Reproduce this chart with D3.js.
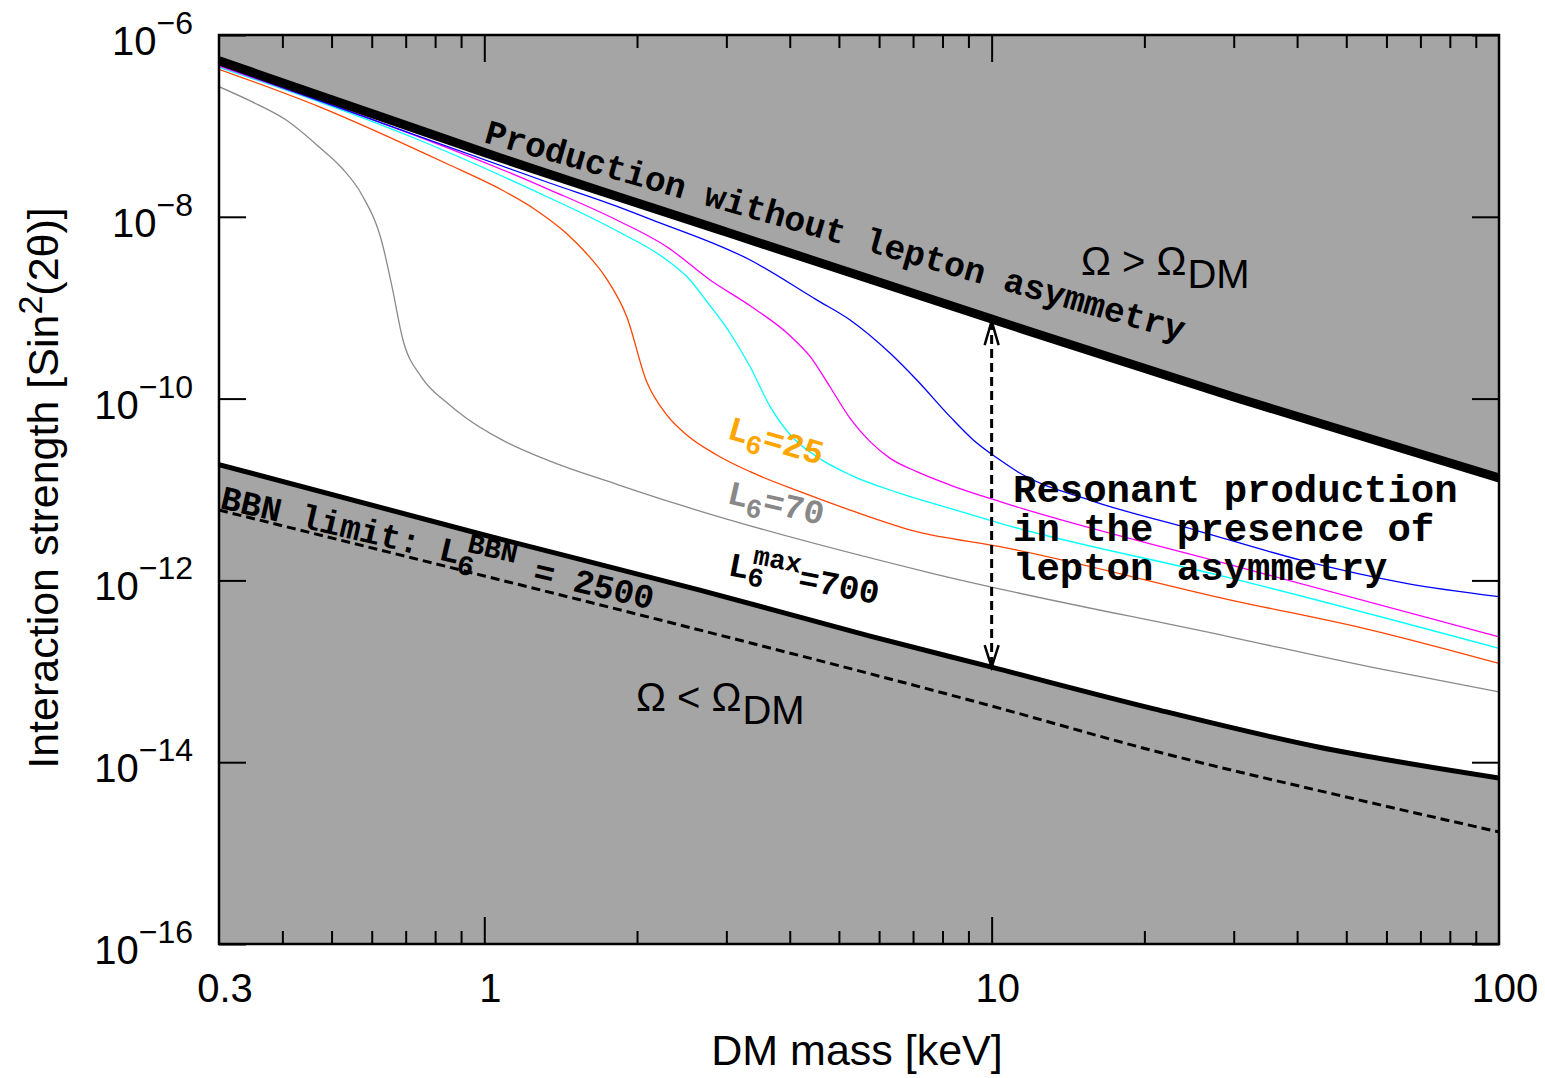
<!DOCTYPE html>
<html>
<head>
<meta charset="utf-8">
<script src="https://cdn.jsdelivr.net/npm/d3@7"></script>
<style>
  body { margin: 0; background: #fff; }
  text { white-space: pre; }
</style>
</head>
<body>
<svg id="chart" width="1545" height="1078"></svg>
<script>
// ---- data: DM mass [keV] and mixing sin^2(2θ) ----
// production without lepton asymmetry (upper bound, Ω > Ω_DM above)
const noAsymMass = [0.3, 0.5, 1, 3, 10, 30, 100];
const noAsymMix  = [5.2e-7, 1.94e-7, 5.1e-8, 6.8e-9, 7.5e-10, 1.04e-10, 1.34e-11];

// resonant production with maximal asymmetry L6 = 700 (lower bound, Ω < Ω_DM below)
const maxAsymMass = [0.3, 1, 2.66, 5.76, 10, 20.6, 44, 100];
const maxAsymMix  = [1.88e-11, 3.16e-12, 7.83e-13, 2.44e-13, 1.11e-13, 3.94e-14, 1.47e-14, 6.7e-15];

// BBN limit, L6 = 2500 (dashed)
const bbnMass = [0.3, 1, 2.43, 10, 20.6, 50, 100];
const bbnMix  = [5.94e-12, 1.12e-12, 3.23e-13, 4.15e-14, 1.36e-14, 4.14e-15, 1.71e-15];

// intermediate asymmetries
const grayMass = [0.3, 0.348, 0.407, 0.472, 0.524, 0.574, 0.629, 0.658, 0.689, 0.754, 0.841, 0.921, 1.084, 1.36, 1.843, 2.431, 7.56, 29.6, 56, 100];
const grayMix  = [2.70e-7, 1.85e-7, 1.16e-7, 5.90e-8, 3.44e-8, 1.74e-8, 5.15e-9, 1.69e-9, 4.76e-10, 1.69e-10, 9.18e-11, 6.12e-11, 3.51e-11, 2.01e-11, 1.12e-11, 6.76e-12, 1.21e-12, 2.38e-13, 1.11e-13, 5.92e-14];

const orangeMass = [0.3, 0.472, 0.84, 1.084, 1.263, 1.449, 1.587, 1.738, 1.909, 2.09, 2.289, 2.507, 2.872, 3.342, 4.19, 5.26, 7.12, 10.39, 29.6, 56, 100];
const orangeMix  = [4.20e-7, 1.63e-7, 3.88e-8, 1.97e-8, 1.19e-8, 6.64e-9, 4.00e-9, 2.12e-9, 7.96e-10, 1.53e-10, 6.61e-11, 3.98e-11, 2.40e-11, 1.57e-11, 9.46e-12, 5.94e-12, 3.43e-12, 2.35e-12, 6.08e-13, 2.84e-13, 1.22e-13];

const cyanMass = [0.3, 0.744, 1.349, 1.566, 1.843, 2.289, 2.544, 2.745, 3.05, 3.342, 3.66, 4.01, 4.52, 5.26, 6.6, 8.28, 10.39, 29.6, 100];
const cyanMix  = [4.42e-7, 7.0e-8, 1.60e-8, 1.08e-8, 6.8e-9, 3.35e-9, 2.02e-9, 1.17e-9, 5.27e-10, 2.24e-10, 8.15e-11, 3.98e-11, 2.30e-11, 1.45e-11, 9.08e-12, 6.21e-12, 4.25e-12, 1.06e-12, 1.79e-13];

const magentaMass = [0.3, 1.349, 1.823, 2.289, 2.786, 3.342, 4.01, 4.39, 4.80, 5.26, 5.76, 6.31, 7.12, 8.28, 10.39, 29.6, 100];
const magentaMix  = [4.56e-7, 1.97e-8, 9.23e-9, 4.69e-9, 2.02e-9, 1.05e-9, 4.89e-10, 2.89e-10, 1.35e-10, 6.07e-11, 3.36e-11, 2.20e-11, 1.57e-11, 1.12e-11, 7.35e-12, 1.48e-12, 2.40e-13];

const blueMass = [0.3, 1.349, 1.843, 2.122, 3.342, 4.52, 5.26, 6.31, 7.12, 8.28, 9.20, 10.39, 11.38, 15.6, 25.2, 40.7, 65.6, 100];
const blueMix  = [4.71e-7, 2.34e-8, 1.28e-8, 9.45e-9, 3.35e-9, 1.22e-9, 7.33e-10, 3.15e-10, 1.60e-10, 6.33e-11, 3.51e-11, 2.11e-11, 1.51e-11, 7.66e-12, 3.58e-12, 1.67e-12, 9.29e-13, 6.62e-13];

// ---- axes ----
const xMajor = [1, 10];
const xMinor = [0.4, 0.5, 0.6, 0.7, 0.8, 0.9, 2, 3, 4, 5, 6, 7, 8, 9, 20, 30, 40, 50, 60, 70, 80, 90];
const xTickValues = [0.3, 1, 10, 100];
const xTickLabels = ["0.3", "1", "10", "100"];
const yTickValues = [1e-6, 1e-8, 1e-10, 1e-12, 1e-14, 1e-16];
const yTickExponents = ["\u22126", "\u22128", "\u221210", "\u221212", "\u221214", "\u221216"];

const plot = { left: 219, right: 1499, top: 35, bottom: 944 };
const sans = "'Liberation Sans', Arial, Helvetica, sans-serif";
const mono = "'Liberation Mono', 'Courier New', Courier, monospace";
const shade = "#a5a5a5";

const svg = d3.select("#chart");
const x = d3.scaleLog().domain([0.3, 100]).range([plot.left, plot.right]);
const y = d3.scaleLog().domain([1e-16, 1e-6]).range([plot.bottom, plot.top]);

const pairs = (ms, vs) => ms.map((m, i) => [m, vs[i]]);
const line = d3.line().x(d => x(d[0])).y(d => y(d[1])).curve(d3.curveMonotoneX);

svg.append("defs").append("clipPath").attr("id", "plotClip")
  .append("rect")
  .attr("x", plot.left).attr("y", plot.top)
  .attr("width", plot.right - plot.left).attr("height", plot.bottom - plot.top);

const body = svg.append("g").attr("clip-path", "url(#plotClip)");

const upper = pairs(noAsymMass, noAsymMix);
const lower = pairs(maxAsymMass, maxAsymMix);

// excluded regions
body.append("path")
  .attr("d", d3.area().x(d => x(d[0])).y0(plot.top).y1(d => y(d[1])).curve(d3.curveMonotoneX)(upper))
  .attr("fill", shade);
body.append("path")
  .attr("d", d3.area().x(d => x(d[0])).y0(plot.bottom).y1(d => y(d[1])).curve(d3.curveMonotoneX)(lower))
  .attr("fill", shade);

// curves for different lepton asymmetries
const curves = [
  { m: grayMass, v: grayMix, c: "#8a8a8a" },
  { m: orangeMass, v: orangeMix, c: "#ff4500" },
  { m: cyanMass, v: cyanMix, c: "#00ffff" },
  { m: magentaMass, v: magentaMix, c: "#ff00ff" },
  { m: blueMass, v: blueMix, c: "#0000ff" }
];
curves.forEach(cv => {
  body.append("path").attr("d", line(pairs(cv.m, cv.v)))
    .attr("fill", "none").attr("stroke", cv.c).attr("stroke-width", 1.3);
});

// BBN limit
body.append("path").attr("d", line(pairs(bbnMass, bbnMix)))
  .attr("fill", "none").attr("stroke", "#000").attr("stroke-width", 3)
  .attr("stroke-dasharray", "9,5");

// boundaries
body.append("path").attr("d", line(upper))
  .attr("fill", "none").attr("stroke", "#000").attr("stroke-width", 9);
body.append("path").attr("d", line(lower))
  .attr("fill", "none").attr("stroke", "#000").attr("stroke-width", 5);

// double-headed arrow at 10 keV
const arrowX = x(10);
const yA = y(noAsymMix[noAsymMass.indexOf(10)]) + 2;
const yB = y(maxAsymMix[maxAsymMass.indexOf(10)]);
const arrow = svg.append("g").attr("stroke", "#000").attr("fill", "none");
arrow.append("line").attr("x1", arrowX).attr("x2", arrowX).attr("y1", yA).attr("y2", yB)
  .attr("stroke-width", 3).attr("stroke-dasharray", "9,5");
arrow.append("path").attr("stroke-width", 2.5)
  .attr("d", `M${arrowX - 7},${yA + 24}L${arrowX},${yA}L${arrowX + 7},${yA + 24}`);
arrow.append("path").attr("stroke-width", 2.5)
  .attr("d", `M${arrowX - 7},${yB - 22}L${arrowX},${yB}L${arrowX + 7},${yB - 22}`);

// ticks (inward, mirrored on all sides)
function tickAxis(axis, transform) {
  const g = svg.append("g").attr("transform", transform).call(axis);
  g.select(".domain").remove();
  g.selectAll(".tick line").attr("stroke", "#000").attr("stroke-width", 2);
  g.selectAll(".tick text").remove();
}
tickAxis(d3.axisBottom(x).tickValues(xMajor).tickSize(-27).tickFormat(""), `translate(0,${plot.bottom})`);
tickAxis(d3.axisBottom(x).tickValues(xMinor).tickSize(-13).tickFormat(""), `translate(0,${plot.bottom})`);
tickAxis(d3.axisTop(x).tickValues(xMajor).tickSize(-27).tickFormat(""), `translate(0,${plot.top})`);
tickAxis(d3.axisTop(x).tickValues(xMinor).tickSize(-13).tickFormat(""), `translate(0,${plot.top})`);
tickAxis(d3.axisLeft(y).tickValues(yTickValues).tickSize(-27).tickFormat(""), `translate(${plot.left},0)`);
tickAxis(d3.axisRight(y).tickValues(yTickValues).tickSize(-27).tickFormat(""), `translate(${plot.right},0)`);

// frame
svg.append("rect")
  .attr("x", plot.left).attr("y", plot.top)
  .attr("width", plot.right - plot.left).attr("height", plot.bottom - plot.top)
  .attr("fill", "none").attr("stroke", "#000").attr("stroke-width", 2.5);

// tick labels
xTickValues.forEach((v, i) => {
  svg.append("text")
    .attr("x", x(v) + 6).attr("y", 1002)
    .attr("text-anchor", "middle")
    .attr("font-family", sans).attr("font-size", 40).attr("fill", "#000")
    .text(xTickLabels[i]);
});
yTickValues.forEach((v, i) => {
  const t = svg.append("text")
    .attr("x", 193).attr("y", y(v) + 20)
    .attr("text-anchor", "end")
    .attr("font-family", sans).attr("font-size", 40).attr("fill", "#000");
  t.append("tspan").text("10");
  t.append("tspan").attr("font-size", 32).attr("dy", -21).text(yTickExponents[i]);
});

// axis titles
svg.append("text")
  .attr("x", 857).attr("y", 1065).attr("text-anchor", "middle")
  .attr("font-family", sans).attr("font-size", 43).attr("fill", "#000")
  .text("DM mass [keV]");
const yTitle = svg.append("text")
  .attr("transform", "translate(58,488) rotate(-90)")
  .attr("text-anchor", "middle")
  .attr("font-family", sans).attr("font-size", 43).attr("fill", "#000");
yTitle.append("tspan").text("Interaction strength [Sin");
yTitle.append("tspan").attr("font-size", 34).attr("dy", -16).text("2");
yTitle.append("tspan").attr("dy", 16).text("(2\u03b8)]");

// region labels
function omegaLabel(x0, y0, rel) {
  const t = svg.append("text").attr("x", x0).attr("y", y0)
    .attr("font-family", sans).attr("font-size", 40).attr("fill", "#000");
  t.append("tspan").text(`\u03a9 ${rel} \u03a9`);
  t.append("tspan").attr("font-size", 40).attr("dy", 13).attr("dx", 1).text("DM");
}
omegaLabel(1081, 275, ">");
omegaLabel(636, 711, "<");

// slanted annotations in typewriter bold
function slanted(x0, y0, angle, size, color, parts) {
  const t = svg.append("text")
    .attr("transform", `translate(${x0},${y0}) rotate(${angle})`)
    .attr("font-family", mono).attr("font-weight", "bold")
    .attr("font-size", size).attr("fill", color);
  parts.forEach(p => {
    const s = t.append("tspan").text(p.text);
    if (p.size) s.attr("font-size", p.size);
    if (p.dx) s.attr("dx", p.dx);
    if (p.dy) s.attr("dy", p.dy);
  });
}
slanted(483, 142, 15.9, 34.6, "#000", [{ text: "Production without lepton asymmetry" }]);
slanted(219, 508, 13.2, 34, "#000", [
  { text: "BBN limit: L" },
  { text: "6", size: 28, dy: 9 },
  { text: "BBN", size: 28, dx: -11, dy: -23 },
  { text: " = 2500", size: 34, dy: 14 }
]);
slanted(726, 438, 16, 34, "#ffa500", [
  { text: "L" }, { text: "6", size: 27, dy: 8 }, { text: "=25", size: 34, dy: -8 }
]);
slanted(726, 503, 13, 34, "#888888", [
  { text: "L" }, { text: "6", size: 27, dy: 8 }, { text: "=70", size: 34, dy: -8 }
]);
slanted(727, 575, 11, 34, "#000", [
  { text: "L" },
  { text: "6", size: 27, dy: 6 },
  { text: "max", size: 27, dx: -14, dy: -22 },
  { text: "=700", size: 34, dy: 16 }
]);

// resonant production annotation
const resLines = ["Resonant production", "in the presence of", "lepton asymmetry"];
resLines.forEach((s, i) => {
  svg.append("text")
    .attr("x", 1013).attr("y", 502 + i * 39)
    .attr("font-family", mono).attr("font-weight", "bold")
    .attr("font-size", 39).attr("fill", "#000")
    .text(s);
});
</script>
</body>
</html>
